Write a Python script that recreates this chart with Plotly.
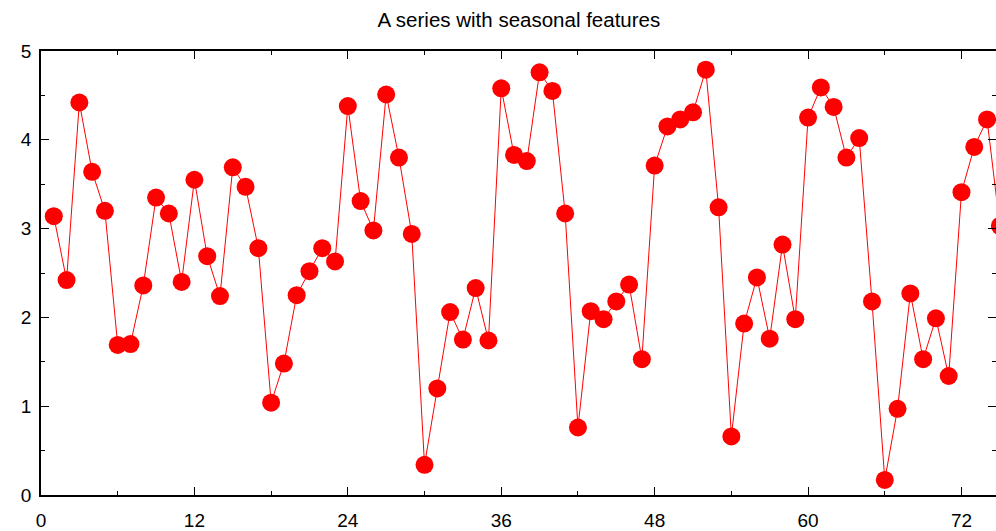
import plotly.graph_objects as go

x_values = list(range(1, 76))
y_values = [
    3.14, 2.42, 4.42, 3.64, 3.20, 1.69, 1.70, 2.36, 3.35, 3.17,
    2.40, 3.55, 2.69, 2.24, 3.69, 3.47, 2.78, 1.04, 1.48, 2.25,
    2.52, 2.78, 2.63, 4.38, 3.31, 2.98, 4.51, 3.80, 2.94, 0.34,
    1.20, 2.06, 1.75, 2.33, 1.74, 4.58, 3.83, 3.76, 4.76, 4.55,
    3.17, 0.76, 2.07, 1.98, 2.18, 2.37, 1.53, 3.71, 4.15, 4.23,
    4.31, 4.79, 3.24, 0.66, 1.93, 2.45, 1.76, 2.82, 1.98, 4.25,
    4.59, 4.37, 3.80, 4.02, 2.18, 0.17, 0.97, 2.27, 1.53, 1.99,
    1.34, 3.41, 3.92, 4.23, 3.03,
]
x_ticks = [0, 12, 24, 36, 48, 60, 72]
y_ticks = [0, 1, 2, 3, 4, 5]
title_text = "A series with seasonal features"

fig = go.Figure()
fig.add_trace(go.Scatter(
    x=x_values, y=y_values, mode="lines+markers",
    line=dict(color="#ff0000", width=1),
    marker=dict(color="#ff0000", size=18, line=dict(width=0)),
    showlegend=False,
))

font = dict(family="Liberation Sans, Arial, sans-serif", size=19, color="black")

axis_common = dict(
    showgrid=False, zeroline=False, showline=True, linecolor="black",
    linewidth=1.5, mirror="ticks", ticks="inside", ticklen=8,
    tickwidth=1.2, tickcolor="black", tickfont=font, automargin=False,
)

fig.update_layout(
    width=996, height=531,
    margin=dict(l=41, r=0, t=51, b=36),
    paper_bgcolor="white", plot_bgcolor="white",
    title=dict(text=title_text, x=0.521, xanchor="center",
               y=1 - 20 / 531, yanchor="middle", yref="container",
               font=dict(family="Liberation Sans, Arial, sans-serif", size=20.5, color="black")),
    xaxis=dict(range=[0, 74.7], tickvals=x_ticks, ticklabelstandoff=7,
               minor=dict(dtick=6, tick0=0, ticks="inside", ticklen=4, tickcolor="black", tickwidth=1.2),
               **axis_common),
    yaxis=dict(range=[0, 5], tickvals=y_ticks, ticklabelstandoff=4,
               minor=dict(dtick=0.5, tick0=0, ticks="inside", ticklen=4, tickcolor="black", tickwidth=1.2),
               **axis_common),
)

fig.write_html("out.html")
